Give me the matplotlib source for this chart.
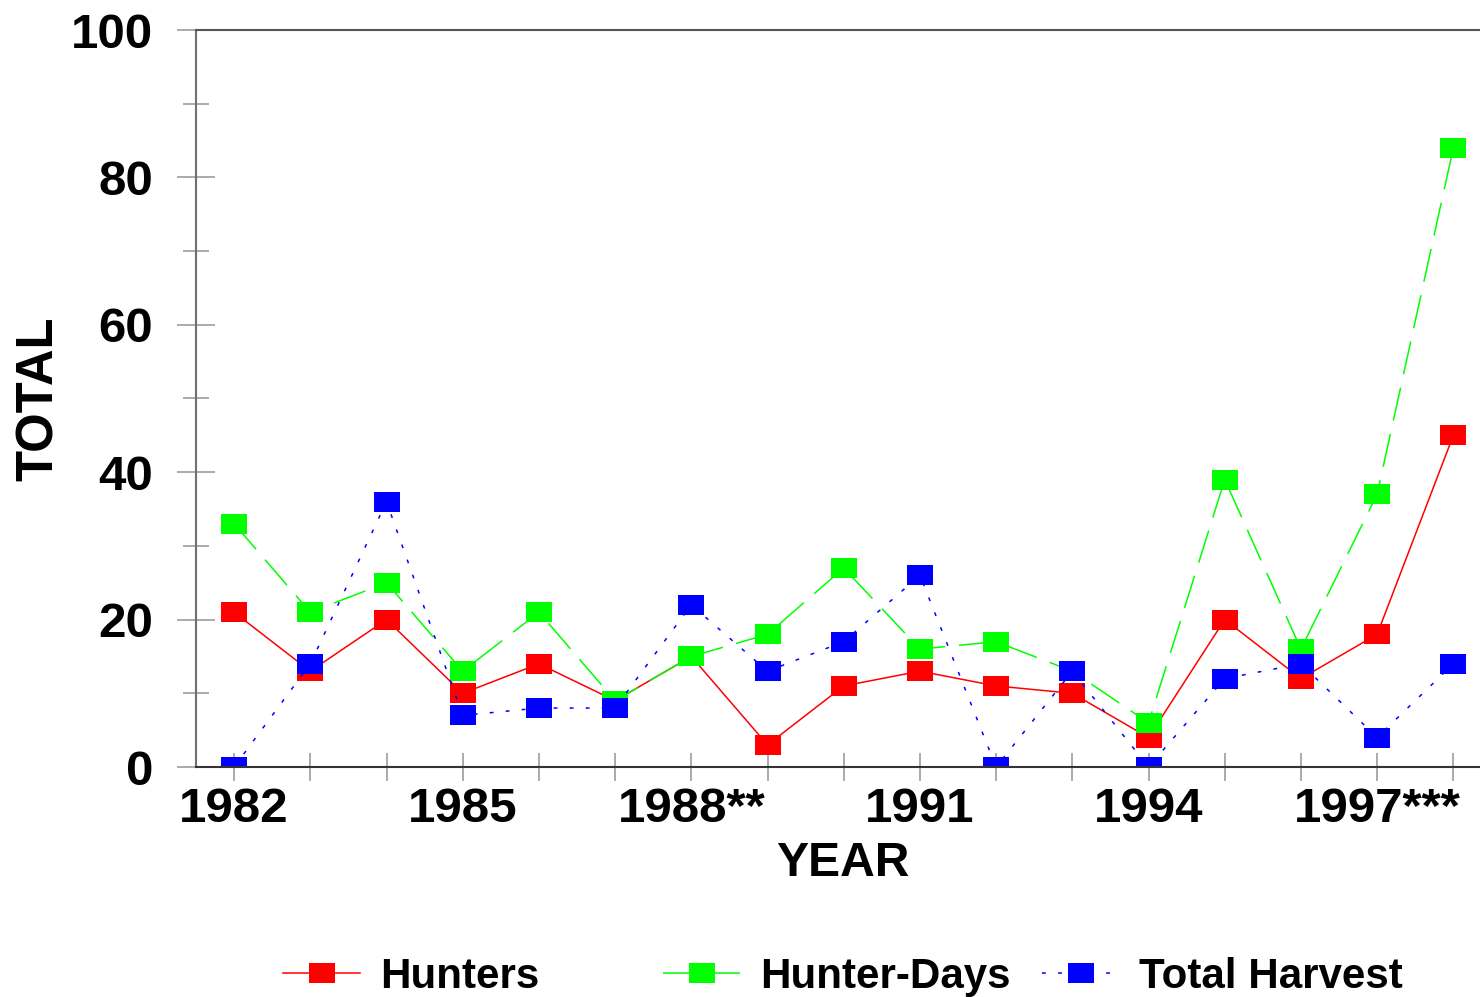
import numpy as np
import matplotlib
matplotlib.use('Agg')
import matplotlib.pyplot as plt
from matplotlib.ticker import MultipleLocator

plt.rcParams['font.family'] = ['Liberation Sans', 'DejaVu Sans']
plt.rcParams['font.weight'] = 'bold'

# Data
years = np.arange(1982, 1999)
year_labels = {1982: '1982', 1985: '1985', 1988: '1988**', 1991: '1991',
               1994: '1994', 1997: '1997***'}
hunters = [21, 13, 20, 10, 14, 9, 15, 3, 11, 13, 11, 10, 4, 20, 12, 18, 45]
hunter_days = [33, 21, 25, 13, 21, 9, 15, 18, 27, 16, 17, 13, 6, 39, 16, 37, 84]
total_harvest = [0, 14, 36, 7, 8, 8, 22, 13, 17, 26, 0, 13, 0, 12, 14, 4, 14]

# wide rectangle marker
rect = [(-1.3, -1.0), (1.3, -1.0), (1.3, 1.0), (-1.3, 1.0), (-1.3, -1.0)]

fig = plt.figure(figsize=(14.8, 9.97), dpi=100)
ax = fig.add_axes([196 / 1480, 1 - 767 / 997, 1 - 196 / 1480, (767 - 30) / 997])

series = [
    ('Hunters', hunters, '#ff0000', '-', 1.1),
    ('Hunter-Days', hunter_days, '#00ff00', (0, (22, 9)), 1.1),
    ('Total Harvest', total_harvest, '#0000ff', (0, (2.5, 8)), 1.1),
]
handles = []
for name, vals, col, ls, lw in series:
    h, = ax.plot(years, vals, color=col, linestyle=ls, linewidth=lw,
                 marker=rect, markersize=18.7, markerfacecolor=col,
                 markeredgewidth=0, label=name)
    handles.append(h)

ax.set_xlim(1981.5, 1998.35)
ax.set_ylim(0, 100)

ax.set_xticks(years)
ax.set_xticklabels([year_labels.get(y, '') for y in years])
ax.yaxis.set_major_locator(MultipleLocator(20))
ax.yaxis.set_minor_locator(MultipleLocator(10))

ax.tick_params(axis='y', which='major', direction='inout', length=28,
               width=1.4, color='#aaaaaa', labelsize=35.5, pad=17)
ax.tick_params(axis='y', which='minor', direction='inout', length=18.5,
               width=1.4, color='#aaaaaa')
ax.tick_params(axis='x', which='major', direction='inout', length=19.5,
               width=1.4, color='#aaaaaa', labelsize=35.5, pad=5)
for lab in ax.get_xticklabels() + ax.get_yticklabels():
    lab.set_fontweight('bold')

ax.spines['right'].set_visible(False)
ax.spines['left'].set_color('#707070')
ax.spines['left'].set_linewidth(1.5)
ax.spines['top'].set_color('#555555')
ax.spines['top'].set_linewidth(1.5)
ax.spines['bottom'].set_color('#333333')
ax.spines['bottom'].set_linewidth(1.5)

ax.set_xlabel('YEAR', fontsize=34.6, fontweight='bold', labelpad=6)
ax.xaxis.label.set_x(0.504)
ax.set_ylabel('TOTAL', fontsize=36.5, fontweight='bold', labelpad=5)

# three separate legend entries placed along the bottom
legend_x = [283, 663, 1042]
for h, lx in zip(handles, legend_x):
    fig.legend(handles=[h], loc='center left',
               bbox_to_anchor=(lx / 1480, 1 - 977 / 997),
               frameon=False, handlelength=1.83,
               handletextpad=0.48, borderpad=0, borderaxespad=0,
               prop={'weight': 'bold', 'size': 30.3})

fig.savefig('out.png', dpi=100)
